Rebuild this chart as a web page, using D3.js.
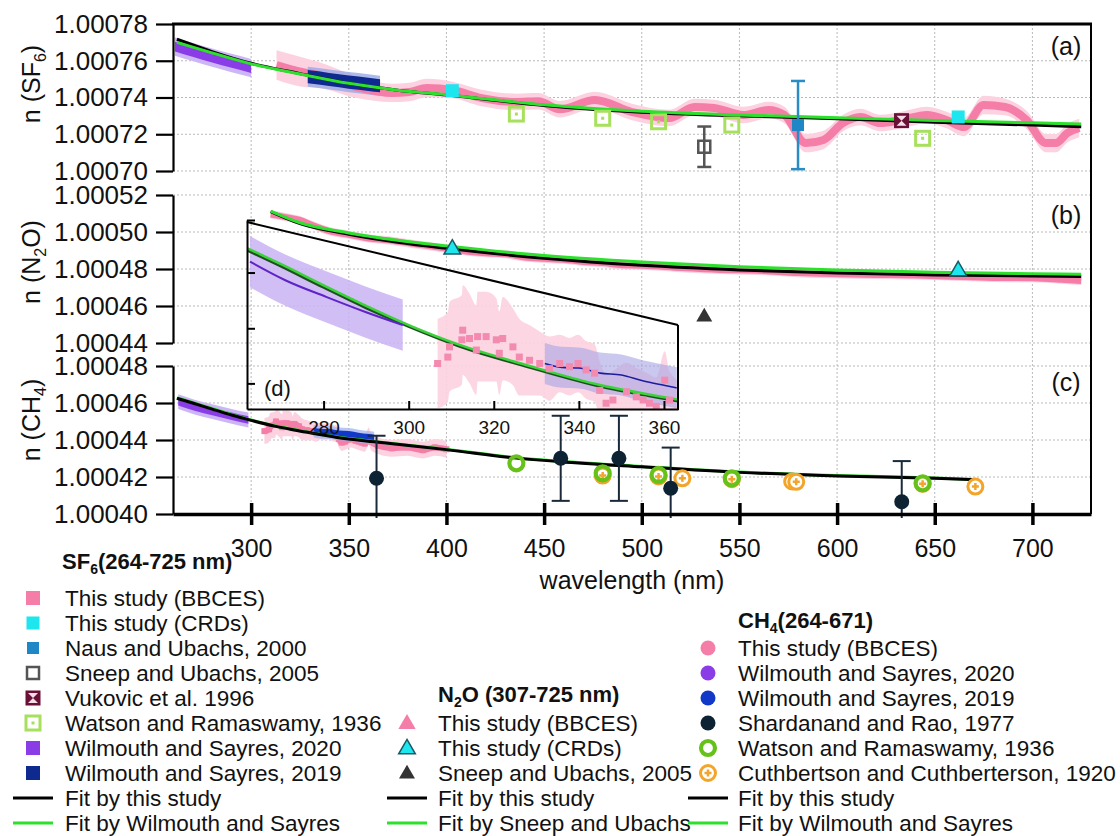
<!DOCTYPE html>
<html>
<head>
<meta charset="utf-8">
<script src="https://cdn.jsdelivr.net/npm/d3@7"></script>
<style>
body { margin: 0; background: #fff; }
svg { font-family: "Liberation Sans", Arial, sans-serif; }
</style>
</head>
<body>
<svg id="chart" width="1120" height="836"></svg>
<script>
// ---- axes / ticks ----
var xTicks = [300, 350, 400, 450, 500, 550, 600, 650, 700];
var yTicksA = [1.00070, 1.00072, 1.00074, 1.00076, 1.00078];
var yTicksB = [1.00044, 1.00046, 1.00048, 1.00050, 1.00052];
var yTicksC = [1.00040, 1.00042, 1.00044, 1.00046, 1.00048];
var insetXTicks = [280, 300, 320, 340, 360];
var insetYTicks = [1.0004672, 1.000459, 1.0004503, 1.0004417];

// ---- (a) SF6 ----
var sf6PinkWl = [313, 326, 335, 354, 372, 381, 390, 403, 418, 436, 447, 458, 476, 495, 514, 527, 537, 552, 565, 573, 584, 593, 603, 612, 622, 633, 646, 656, 665, 675, 686, 697, 707, 712, 718, 724];
var sf6PinkN = [1.0007577, 1.0007539, 1.0007522, 1.0007457, 1.0007425, 1.000743, 1.0007452, 1.0007441, 1.0007397, 1.0007376, 1.000738, 1.0007336, 1.0007386, 1.0007321, 1.0007288, 1.0007348, 1.0007343, 1.0007305, 1.0007332, 1.0007305, 1.0007152, 1.0007169, 1.0007261, 1.0007294, 1.0007261, 1.0007278, 1.0007305, 1.0007278, 1.0007239, 1.0007359, 1.0007348, 1.0007278, 1.0007152, 1.0007152, 1.0007207, 1.0007234];
var sf6PinkErr = [8e-6, 8e-6, 7e-6, 6e-6, 5e-6, 5e-6, 5e-6, 4.5e-6, 4.5e-6, 4.5e-6, 4.5e-6, 4.5e-6, 4.5e-6, 4.5e-6, 4.5e-6, 4.5e-6, 4.5e-6, 4.5e-6, 4.5e-6, 4.5e-6, 5e-6, 5e-6, 4.5e-6, 4.5e-6, 4.5e-6, 4.5e-6, 4.5e-6, 4.5e-6, 5e-6, 5e-6, 4.5e-6, 5e-6, 5e-6, 5e-6, 5e-6, 5e-6];
var sf6Ws20Wl = [261, 270, 280, 290, 300];
var sf6Ws20N = [1.0007677, 1.0007648, 1.0007617, 1.0007588, 1.000756];
var sf6Ws19Wl = [329, 340, 350, 360, 366];
var sf6Ws19N = [1.0007513, 1.0007498, 1.0007484, 1.0007472, 1.0007464];
var sf6CrdWl = [403, 662];
var sf6CrdN = [1.0007437, 1.0007294];
var sf6NausWl = [580];
var sf6NausN = [1.000725];
var sf6NausErr = [2.4e-5];
var sf6SneepWl = [532];
var sf6SneepN = [1.0007132];
var sf6SneepErr = [1.1e-5];
var sf6VukWl = [633];
var sf6VukN = [1.0007274];
var sf6WatWl = [435.8, 480, 508.6, 546.1, 643.8];
var sf6WatN = [1.000731, 1.0007287, 1.0007268, 1.000725, 1.0007178];
var sf6FitWl = [262, 280, 300, 325, 350, 375, 400, 450, 500, 550, 600, 650, 700, 725];
var sf6FitN = [1.0007717, 1.000765, 1.0007586, 1.000753, 1.0007477, 1.000744, 1.0007414, 1.0007357, 1.000732, 1.00073, 1.0007285, 1.0007265, 1.000725, 1.0007241];
var sf6WsFitN = [1.00077, 1.0007643, 1.0007583, 1.0007528, 1.0007477, 1.000744, 1.0007415, 1.000736, 1.0007325, 1.0007305, 1.000729, 1.0007275, 1.0007262, 1.0007256];

// ---- (b) N2O ----
var n2oPinkWl = [310, 318, 325, 332, 340, 350, 360, 370, 380, 390, 400, 410, 420, 430, 440, 450, 460, 470, 480, 490, 500, 520, 540, 560, 580, 600, 620, 640, 660, 680, 700, 715, 725];
var n2oPinkN = [1.0005095, 1.000508, 1.0005065, 1.0005035, 1.0005005, 1.0004985, 1.0004965, 1.0004955, 1.000494, 1.0004925, 1.000491, 1.0004895, 1.0004885, 1.000488, 1.0004862, 1.0004855, 1.000485, 1.0004838, 1.0004832, 1.000482, 1.0004818, 1.0004805, 1.0004795, 1.000479, 1.0004778, 1.0004772, 1.0004768, 1.0004765, 1.0004758, 1.0004752, 1.000475, 1.0004742, 1.0004735];
var n2oPinkErr = 2.2e-6;
var n2oCrdWl = [403, 662];
var n2oCrdN = [1.0004912, 1.0004795];
var n2oSneepWl = [532];
var n2oSneepN = [1.0004546];
var n2oFitWl = [310, 325, 350, 375, 400, 450, 500, 550, 600, 650, 700, 725];
var n2oFitN = [1.000511, 1.0005045, 1.0004988, 1.0004945, 1.0004912, 1.0004858, 1.000482, 1.0004795, 1.0004778, 1.0004768, 1.0004762, 1.000476];
var n2oSuFitN = [1.0005113, 1.000505, 1.0004995, 1.0004955, 1.0004925, 1.0004873, 1.0004838, 1.0004812, 1.0004795, 1.0004783, 1.0004775, 1.0004772];

// ---- (c) CH4 and inset (d) ----
var ch4PinkWl = [306.8, 309.2, 309.6, 312.5, 312.7, 314.3, 315.9, 316.2, 318.2, 320.6, 321.3, 322.1, 324.5, 326, 328.4, 330.8, 333.1, 335.5, 337.8, 339.8, 341.7, 343.7, 344.9, 346.4, 348, 351.2, 353.5, 355.1, 356.6, 358.2, 360.2, 361.3, 365, 372, 380, 388, 394, 400];
var ch4PinkN = [1.0004448, 1.0004458, 1.0004474, 1.0004485, 1.00045, 1.0004487, 1.0004469, 1.000449, 1.000449, 1.0004485, 1.0004464, 1.0004487, 1.0004474, 1.0004458, 1.0004453, 1.0004448, 1.000444, 1.0004448, 1.0004443, 1.0004448, 1.0004438, 1.0004433, 1.0004406, 1.0004386, 1.0004391, 1.0004404, 1.0004396, 1.0004391, 1.0004386, 1.0004381, 1.0004422, 1.0004391, 1.000437, 1.0004355, 1.000436, 1.0004345, 1.000436, 1.000435];
var ch4PinkErr = [7e-6, 7e-6, 7e-6, 7e-6, 7e-6, 7e-6, 7e-6, 7e-6, 7e-6, 6.5e-6, 6.5e-6, 6.5e-6, 6e-6, 6e-6, 5.5e-6, 5e-6, 5e-6, 4.5e-6, 4.5e-6, 4.5e-6, 4.5e-6, 4.5e-6, 4.5e-6, 4.5e-6, 4.5e-6, 4.5e-6, 4.5e-6, 4.5e-6, 4.5e-6, 4.5e-6, 4.5e-6, 4.5e-6, 4.5e-6, 4.5e-6, 4.5e-6, 4.5e-6, 4.5e-6, 4.5e-6];
var ch4Ws20Wl = [262.7, 271, 280.6, 290, 298.6];
var ch4Ws20N = [1.0004607, 1.0004578, 1.0004552, 1.0004528, 1.0004508];
var ch4Ws19Wl = [332, 336, 340, 345, 350, 355, 360, 363];
var ch4Ws19N = [1.0004448, 1.0004442, 1.0004441, 1.0004433, 1.000443, 1.0004421, 1.0004414, 1.000441];
var ch4ShardWl = [364.2, 458.5, 488.3, 514.8, 633.1];
var ch4ShardN = [1.0004193, 1.0004301, 1.0004301, 1.0004139, 1.0004066];
var ch4ShardErr = [2.3e-5, 2.3e-5, 2.3e-5, 2.2e-5, 2.2e-5];
var ch4WatWl = [435.8, 480, 508.6, 546.1, 643.8];
var ch4WatN = [1.0004274, 1.000422, 1.0004211, 1.0004193, 1.0004166];
var ch4CuthWl = [480, 508.6, 520.8, 546.1, 577, 579.1, 643.8, 670.8];
var ch4CuthN = [1.0004208, 1.0004203, 1.0004193, 1.0004188, 1.0004176, 1.0004174, 1.0004163, 1.0004148];
var ch4FitWl = [262, 270, 280, 290, 300, 312, 328, 344, 363, 400, 436, 458, 500, 550, 600, 650, 671];
var ch4FitN = [1.0004625, 1.00046, 1.0004567, 1.0004535, 1.0004506, 1.0004475, 1.0004443, 1.0004414, 1.000439, 1.0004348, 1.0004302, 1.0004283, 1.0004255, 1.0004225, 1.0004206, 1.0004193, 1.0004185];
var ch4WsFitN = [1.0004628, 1.0004603, 1.000457, 1.0004538, 1.0004508, 1.0004477, 1.0004445, 1.0004416, 1.0004392, 1.000435, 1.0004304, 1.0004285, 1.0004257, 1.0004227, 1.0004208, 1.0004195, 1.0004187];

// ---- legend ----
var legSF6 = ["This study (BBCES)", "This study (CRDs)", "Naus and Ubachs, 2000", "Sneep and Ubachs, 2005", "Vukovic et al. 1996", "Watson and Ramaswamy, 1936", "Wilmouth and Sayres, 2020", "Wilmouth and Sayres, 2019", "Fit by this study", "Fit by Wilmouth and Sayres"];
var legN2O = ["This study (BBCES)", "This study (CRDs)", "Sneep and Ubachs, 2005", "Fit by this study", "Fit by Sneep and Ubachs"];
var legCH4 = ["This study (BBCES)", "Wilmouth and Sayres, 2020", "Wilmouth and Sayres, 2019", "Shardanand and Rao, 1977", "Watson and Ramaswamy, 1936", "Cuthbertson and Cuthberterson, 1920", "Fit by this study", "Fit by Wilmouth and Sayres"];

// colours
var C = {
    pink: "#f47ea8", pinkLight: "#fcd2e0", cyan: "#1de6ef", naus: "#1f87c6",
    grey: "#555555", vuk: "#6a0f35", wat: "#a6e05c", purple: "#8a3de6",
    purpleLight: "#cdb6f5", navy: "#0e2a8e", navyLight: "#97aae6", blue: "#1238c8",
    shard: "#0d2233", ring: "#66c21a", orange: "#f2a52a", fit: "#000000", green: "#2ee02e"
};

var svg = d3.select("#chart");
var X0 = 173, X1 = 1091;
var x = d3.scaleLinear().domain([260, 730]).range([X0, X1]);
var yA = d3.scaleLinear().domain([1.00070, 1.00078]).range([171, 24]);
var yB = d3.scaleLinear().domain([1.00044, 1.00052]).range([343, 195]);
var yC = d3.scaleLinear().domain([1.00040, 1.00048]).range([514, 366]);
var xi = d3.scaleLinear().domain([262, 363.3]).range([247, 678]);
var yi = d3.scaleLinear().domain([1.0004377, 1.0004672]).range([409, 220]);

function zip(wl, n, err) {
    return wl.map(function(w, i) {
        return [w, n[i], err === undefined ? 0 : (Array.isArray(err) ? err[i] : err)];
    });
}

function drawBand(g, sx, sy, wl, n, err, color, op) {
    var area = d3.area()
        .x(function(d) { return sx(d[0]); })
        .y0(function(d) { return sy(d[1] - d[2]); })
        .y1(function(d) { return sy(d[1] + d[2]); })
        .curve(d3.curveMonotoneX);
    g.append("path").datum(zip(wl, n, err)).attr("d", area)
        .attr("fill", color).attr("opacity", op === undefined ? 1 : op);
}

function drawLine(g, sx, sy, wl, n, color, width) {
    var line = d3.line()
        .x(function(d) { return sx(d[0]); })
        .y(function(d) { return sy(d[1]); })
        .curve(d3.curveMonotoneX);
    g.append("path").datum(zip(wl, n)).attr("d", line)
        .attr("fill", "none").attr("stroke", color).attr("stroke-width", width)
        .attr("stroke-linejoin", "round");
}

function errBars(g, sx, sy, wl, n, err, color, w, cap) {
    zip(wl, n, err).forEach(function(d) {
        var cx = sx(d[0]), t = sy(d[1] + d[2]), b = sy(d[1] - d[2]);
        g.append("line").attr("x1", cx).attr("x2", cx).attr("y1", t).attr("y2", b)
            .attr("stroke", color).attr("stroke-width", w);
        [t, b].forEach(function(yy) {
            g.append("line").attr("x1", cx - cap).attr("x2", cx + cap).attr("y1", yy).attr("y2", yy)
                .attr("stroke", color).attr("stroke-width", w);
        });
    });
}

function rect(g, cx, cy, s, fill) {
    g.append("rect").attr("x", cx - s / 2).attr("y", cy - s / 2).attr("width", s).attr("height", s).attr("fill", fill);
}
function circ(g, cx, cy, r, fill) {
    g.append("circle").attr("cx", cx).attr("cy", cy).attr("r", r).attr("fill", fill);
}
function tri(g, cx, cy, size, fill, stroke) {
    g.append("path").attr("d", d3.symbol(d3.symbolTriangle, size)())
        .attr("transform", "translate(" + cx + "," + (cy + 1) + ")")
        .attr("fill", fill).attr("stroke", stroke).attr("stroke-width", 1.5);
}

// marker drawing, shared by plot and legend
function sym(g, kind, cx, cy) {
    if (kind === "pinkSq") rect(g, cx, cy, 14, C.pink);
    else if (kind === "cyanSq") rect(g, cx, cy, 13, C.cyan);
    else if (kind === "nausSq") rect(g, cx, cy, 12, C.naus);
    else if (kind === "greySq") g.append("rect").attr("x", cx - 6).attr("y", cy - 6).attr("width", 12).attr("height", 12)
        .attr("fill", "none").attr("stroke", C.grey).attr("stroke-width", 2.5);
    else if (kind === "vuk") {
        rect(g, cx, cy, 15, C.vuk);
        g.append("path").attr("d", "M" + (cx - 5) + "," + (cy - 5) + "L" + (cx + 5) + "," + (cy - 5) + "L" + cx + "," + cy + "Z" +
            "M" + (cx - 5) + "," + (cy + 5) + "L" + (cx + 5) + "," + (cy + 5) + "L" + cx + "," + cy + "Z").attr("fill", "#f4dde6");
    } else if (kind === "watSq") {
        g.append("rect").attr("x", cx - 7).attr("y", cy - 7).attr("width", 14).attr("height", 14)
            .attr("fill", "none").attr("stroke", C.wat).attr("stroke-width", 3);
        rect(g, cx, cy, 3, C.wat);
    } else if (kind === "purpleSq") rect(g, cx, cy, 14, C.purple);
    else if (kind === "navySq") rect(g, cx, cy, 14, C.navy);
    else if (kind === "pinkTri") tri(g, cx, cy, 130, C.pink, "none");
    else if (kind === "cyanTri") tri(g, cx, cy, 120, C.cyan, "#1a5a66");
    else if (kind === "greyTri") tri(g, cx, cy, 110, "#333333", "none");
    else if (kind === "pinkCirc") circ(g, cx, cy, 7.5, C.pink);
    else if (kind === "purpleCirc") circ(g, cx, cy, 7.5, C.purple);
    else if (kind === "blueCirc") circ(g, cx, cy, 7.5, C.blue);
    else if (kind === "shard") circ(g, cx, cy, 7.5, C.shard);
    else if (kind === "ring") g.append("circle").attr("cx", cx).attr("cy", cy).attr("r", 7)
        .attr("fill", "none").attr("stroke", C.ring).attr("stroke-width", 4.2);
    else if (kind === "cuth") {
        g.append("circle").attr("cx", cx).attr("cy", cy).attr("r", 7.5)
            .attr("fill", "#fff").attr("stroke", C.orange).attr("stroke-width", 3);
        g.append("path").attr("d", "M" + (cx - 3.5) + "," + cy + "H" + (cx + 3.5) + "M" + cx + "," + (cy - 3.5) + "V" + (cy + 3.5))
            .attr("stroke", C.orange).attr("stroke-width", 2.5);
    } else if (kind === "blackLine" || kind === "greenLine") {
        g.append("line").attr("x1", cx - 20).attr("x2", cx + 20).attr("y1", cy).attr("y2", cy)
            .attr("stroke", kind === "blackLine" ? C.fit : C.green).attr("stroke-width", 3);
    }
}
function plotSym(g, kind, sy, wl, n) {
    zip(wl, n).forEach(function(d) { sym(g, kind, x(d[0]), sy(d[1])); });
}

// ---- grid ----
var grid = svg.append("g").attr("stroke", "#b9b9b9").attr("stroke-width", 1).attr("stroke-dasharray", "2,2");
xTicks.forEach(function(t) {
    grid.append("line").attr("x1", x(t)).attr("x2", x(t)).attr("y1", 24).attr("y2", 514);
});
[[yA, yTicksA], [yB, yTicksB], [yC, yTicksC]].forEach(function(p) {
    p[1].forEach(function(t) {
        grid.append("line").attr("x1", X0).attr("x2", X1).attr("y1", p[0](t)).attr("y2", p[0](t));
    });
});

// clip paths per panel
var defs = svg.append("defs");
function clip(id, x0, y0, x1, y1) {
    defs.append("clipPath").attr("id", id).append("rect")
        .attr("x", x0).attr("y", y0).attr("width", x1 - x0).attr("height", y1 - y0);
    return svg.append("g").attr("clip-path", "url(#" + id + ")");
}

// ---- panel (a) ----
var gA = clip("clipA", X0, 24, X1, 175);
drawBand(gA, x, yA, sf6PinkWl, sf6PinkN, sf6PinkErr, C.pinkLight);
drawBand(gA, x, yA, sf6Ws20Wl, sf6Ws20N, 5e-6, C.purpleLight);
drawBand(gA, x, yA, sf6Ws19Wl, sf6Ws19N, 5.5e-6, C.navyLight, 0.8);
drawLine(gA, x, yA, sf6PinkWl, sf6PinkN, C.pink, 8);
drawBand(gA, x, yA, sf6Ws20Wl, sf6Ws20N, 2.6e-6, C.purple);
drawBand(gA, x, yA, sf6Ws19Wl, sf6Ws19N, 3.6e-6, C.navy);
drawLine(gA, x, yA, sf6FitWl, sf6FitN, C.fit, 3);
drawLine(gA, x, yA, sf6FitWl, sf6WsFitN, C.green, 3);
plotSym(gA, "watSq", yA, sf6WatWl, sf6WatN);
plotSym(gA, "cyanSq", yA, sf6CrdWl, sf6CrdN);
errBars(gA, x, yA, sf6NausWl, sf6NausN, sf6NausErr, "#2a8cc4", 2.5, 7);
plotSym(gA, "nausSq", yA, sf6NausWl, sf6NausN);
errBars(gA, x, yA, sf6SneepWl, sf6SneepN, sf6SneepErr, C.grey, 2.5, 7);
plotSym(gA, "greySq", yA, sf6SneepWl, sf6SneepN);
plotSym(gA, "vuk", yA, sf6VukWl, sf6VukN);

// ---- panel (b) ----
var gB = clip("clipB", X0, 190, X1, 345);
drawBand(gB, x, yB, n2oPinkWl, n2oPinkN, n2oPinkErr, C.pinkLight);
drawLine(gB, x, yB, n2oPinkWl, n2oPinkN, C.pink, 6);
drawLine(gB, x, yB, n2oFitWl, n2oFitN, C.fit, 3);
drawLine(gB, x, yB, n2oFitWl, n2oSuFitN, C.green, 3);
plotSym(gB, "cyanTri", yB, n2oCrdWl, n2oCrdN);
plotSym(gB, "greyTri", yB, n2oSneepWl, n2oSneepN);

// ---- panel (c) ----
var gC = clip("clipC", X0, 360, X1, 518);
drawBand(gC, x, yC, ch4Ws20Wl, ch4Ws20N, 4e-6, C.purpleLight);
drawBand(gC, x, yC, ch4PinkWl, ch4PinkN, ch4PinkErr, C.pinkLight);
drawLine(gC, x, yC, ch4PinkWl, ch4PinkN, C.pink, 6);
zip(ch4PinkWl, ch4PinkN).forEach(function(d) { rect(gC, x(d[0]), yC(d[1]), 6, C.pink); });
drawBand(gC, x, yC, ch4Ws19Wl, ch4Ws19N, 3.5e-6, "#a9b8f0", 0.8);
drawBand(gC, x, yC, ch4Ws19Wl, ch4Ws19N, 1.8e-6, C.blue);
drawBand(gC, x, yC, ch4Ws20Wl, ch4Ws20N, 2e-6, C.purple);
drawLine(gC, x, yC, ch4FitWl, ch4WsFitN, C.green, 3);
drawLine(gC, x, yC, ch4FitWl, ch4FitN, C.fit, 3);
plotSym(gC, "cuth", yC, ch4CuthWl, ch4CuthN);
plotSym(gC, "ring", yC, ch4WatWl, ch4WatN);
errBars(gC, x, yC, ch4ShardWl, ch4ShardN, ch4ShardErr, "#1a2a3a", 2, 9);
plotSym(gC, "shard", yC, ch4ShardWl, ch4ShardN);

// ---- inset (d) ----
var gD = clip("clipD", 247, 220, 678, 409);
drawBand(gD, xi, yi, ch4Ws20Wl, ch4Ws20N, 4e-6, "#c9b3f3", 0.85);
drawBand(gD, xi, yi, ch4PinkWl, ch4PinkN, ch4PinkErr, C.pinkLight, 0.9);
drawBand(gD, xi, yi, ch4Ws19Wl, ch4Ws19N, 3.2e-6, "#a6a3e2", 0.6);
drawLine(gD, xi, yi, ch4FitWl, ch4FitN, "#1f4f1f", 3);
drawLine(gD, xi, yi, ch4FitWl, ch4WsFitN, "#3bd23b", 2.5);
drawLine(gD, xi, yi, ch4Ws20Wl, ch4Ws20N, "#5f23c8", 2);
drawLine(gD, xi, yi, ch4Ws19Wl, ch4Ws19N, "#1c1ca0", 1.6);
zip(ch4PinkWl, ch4PinkN).forEach(function(d) { rect(gD, xi(d[0]), yi(d[1]), 7, "#f38ab0"); });

var inset = svg.append("g");
var ix = d3.axisBottom(xi).tickValues(insetXTicks).tickSize(-8).tickSizeOuter(0).tickPadding(12);
inset.append("g").attr("transform", "translate(0,409)").call(ix)
    .call(function(g) {
        g.selectAll("path, line").attr("stroke", "#000").attr("stroke-width", 2);
        g.selectAll("text").attr("font-size", 19).attr("fill", "#111")
            .attr("font-family", "Liberation Sans, Arial, sans-serif");
    });
var iy = d3.axisLeft(yi).tickValues(insetYTicks).tickSize(-8).tickSizeOuter(0).tickFormat("");
inset.append("g").attr("transform", "translate(247,0)").call(iy)
    .call(function(g) { g.selectAll("path, line").attr("stroke", "#000").attr("stroke-width", 2); });
// zoom connector line and right edge of the inset
inset.append("line").attr("x1", 247).attr("y1", 222).attr("x2", 678).attr("y2", 325)
    .attr("stroke", "#000").attr("stroke-width", 2);
inset.append("line").attr("x1", 678).attr("y1", 325).attr("x2", 678).attr("y2", 410)
    .attr("stroke", "#000").attr("stroke-width", 2);
inset.append("text").attr("x", 264).attr("y", 396).attr("font-size", 22).attr("fill", "#111").text("(d)");

// ---- axes ----
function leftAxis(sy, ticks) {
    var ax = d3.axisLeft(sy).tickValues(ticks).tickFormat(d3.format(".5f")).tickSize(17).tickSizeOuter(0).tickPadding(8);
    svg.append("g").attr("transform", "translate(" + X0 + ",0)").call(ax)
        .call(function(g) {
            g.selectAll("path, line").attr("stroke", "#000").attr("stroke-width", 2.2);
            g.selectAll("text").attr("font-size", 26).attr("fill", "#111")
                .attr("font-family", "Liberation Sans, Arial, sans-serif");
        });
}
leftAxis(yA, yTicksA);
leftAxis(yB, yTicksB);
leftAxis(yC, yTicksC);

var bx = d3.axisBottom(x).tickValues(xTicks).tickSize(11).tickSizeOuter(0).tickPadding(14);
svg.append("g").attr("transform", "translate(0,514)").call(bx)
    .call(function(g) {
        g.select(".domain").attr("stroke", "#000").attr("stroke-width", 3.5);
        g.selectAll(".tick line").attr("y1", -11).attr("stroke", "#000").attr("stroke-width", 3.5);
        g.selectAll("text").attr("font-size", 25).attr("fill", "#111")
            .attr("font-family", "Liberation Sans, Arial, sans-serif");
    });

// frame top and right
svg.append("line").attr("x1", X0 - 1).attr("x2", X1 + 1).attr("y1", 24).attr("y2", 24)
    .attr("stroke", "#000").attr("stroke-width", 3);
svg.append("line").attr("x1", X1).attr("x2", X1).attr("y1", 24).attr("y2", 514)
    .attr("stroke", "#000").attr("stroke-width", 2);

// panel letters
[["(a)", 55], ["(b)", 224], ["(c)", 391]].forEach(function(p) {
    svg.append("text").attr("x", 1066).attr("y", p[1]).attr("text-anchor", "middle")
        .attr("font-size", 25).attr("fill", "#111").text(p[0]);
});

// axis titles
function yTitle(cy, base, sub, tail) {
    var t = svg.append("text").attr("transform", "translate(40," + cy + ") rotate(-90)")
        .attr("text-anchor", "middle").attr("font-size", 25).attr("fill", "#111");
    t.append("tspan").text(base);
    t.append("tspan").attr("font-size", 16).attr("dy", 6).text(sub);
    t.append("tspan").attr("dy", -6).text(tail);
}
yTitle(84, "n (SF", "6", ")");
yTitle(262, "n (N", "2", "O)");
yTitle(420, "n (CH", "4", ")");

svg.append("text").attr("x", (X0 + X1) / 2).attr("y", 589).attr("text-anchor", "middle")
    .attr("font-size", 25).attr("fill", "#111").text("wavelength (nm)");

// ---- legends ----
function header(x0, yb, base, sub, tail) {
    var t = svg.append("text").attr("x", x0).attr("y", yb).attr("font-size", 22)
        .attr("font-weight", "bold").attr("fill", "#111");
    t.append("tspan").text(base);
    t.append("tspan").attr("font-size", 14).attr("dy", 5).text(sub);
    t.append("tspan").attr("dy", -5).text(tail);
}
function legendCol(symX, textX, y0, labels, kinds) {
    labels.forEach(function(lab, i) {
        var cy = y0 + i * 25;
        sym(svg, kinds[i], symX, cy);
        svg.append("text").attr("x", textX).attr("y", cy + 8).attr("font-size", 22.5)
            .attr("fill", "#111").text(lab);
    });
}
header(62, 569, "SF", "6", "(264-725 nm)");
legendCol(33, 65, 598, legSF6,
    ["pinkSq", "cyanSq", "nausSq", "greySq", "vuk", "watSq", "purpleSq", "navySq", "blackLine", "greenLine"]);
header(438, 702, "N", "2", "O (307-725 nm)");
legendCol(407, 438, 723, legN2O, ["pinkTri", "cyanTri", "greyTri", "blackLine", "greenLine"]);
header(738, 628, "CH", "4", "(264-671)");
legendCol(708, 738, 648, legCH4,
    ["pinkCirc", "purpleCirc", "blueCirc", "shard", "ring", "cuth", "blackLine", "greenLine"]);
</script>
</body>
</html>
